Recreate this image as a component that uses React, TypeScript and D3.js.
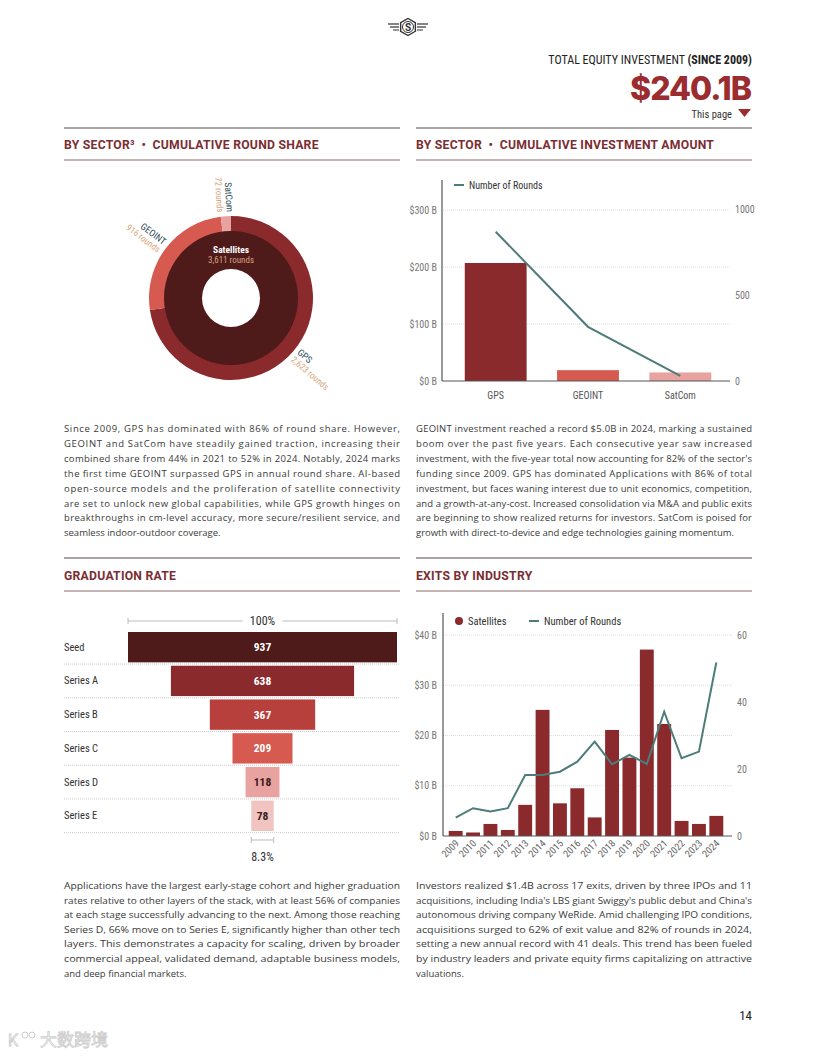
import React from "react";
import * as d3 from "d3";

// ---------- DATA ----------
const donutSectors = ["GPS", "GEOINT", "SatCom"];
const donutRounds = [2623, 916, 72];
const donutTotalLabel = "Satellites";
const donutTotalRounds = 3611;

const sectorCats = ["GPS", "GEOINT", "SatCom"];
const sectorInvestB = [207, 19, 15];
const sectorRounds = [868, 315, 30];
const sectorLeftTicks = [0, 100, 200, 300];
const sectorRightTicks = [0, 500, 1000];

const funnelStages = ["Seed", "Series A", "Series B", "Series C", "Series D", "Series E"];
const funnelValues = [937, 638, 367, 209, 118, 78];
const funnelTopLabel = "100%";
const funnelBottomLabel = "8.3%";

const exitYears = ["2009","2010","2011","2012","2013","2014","2015","2016","2017","2018","2019","2020","2021","2022","2023","2024"];
const exitValuesB = [1.0, 0.7, 2.4, 1.2, 6.2, 25.1, 6.5, 9.5, 3.7, 21.1, 15.6, 37.1, 22.3, 3.0, 2.4, 4.0];
const exitRounds = [5.5, 8.3, 7.3, 8.3, 18.2, 18.2, 19.2, 22.2, 28.2, 21.4, 24.2, 21.5, 37.1, 23.2, 25.2, 51.8];
const exitLeftTicks = [0, 10, 20, 30, 40];
const exitRightTicks = [0, 20, 40, 60];

const para1 = [
  "Since 2009, GPS has dominated with 86% of round share. However,",
  "GEOINT and SatCom have steadily gained traction, increasing their",
  "combined share from 44% in 2021 to 52% in 2024. Notably, 2024 marks",
  "the first time GEOINT surpassed GPS in annual round share. AI-based",
  "open-source models and the proliferation of satellite connectivity",
  "are set to unlock new global capabilities, while GPS growth hinges on",
  "breakthroughs in cm-level accuracy, more secure/resilient service, and",
  "seamless indoor-outdoor coverage.",
];
const para2 = [
  "GEOINT investment reached a record $5.0B in 2024, marking a sustained",
  "boom over the past five years. Each consecutive year saw increased",
  "investment, with the five-year total now accounting for 82% of the sector's",
  "funding since 2009. GPS has dominated Applications with 86% of total",
  "investment, but faces waning interest due to unit economics, competition,",
  "and a growth-at-any-cost. Increased consolidation via M&A and public exits",
  "are beginning to show realized returns for investors. SatCom is poised for",
  "growth with direct-to-device and edge technologies gaining momentum.",
];
const para3 = [
  "Applications have the largest early-stage cohort and higher graduation",
  "rates relative to other layers of the stack, with at least 56% of companies",
  "at each stage successfully advancing to the next. Among those reaching",
  "Series D, 66% move on to Series E, significantly higher than other tech",
  "layers. This demonstrates a capacity for scaling, driven by broader",
  "commercial appeal, validated demand, adaptable business models,",
  "and deep financial markets.",
];
const para4 = [
  "Investors realized $1.4B across 17 exits, driven by three IPOs and 11",
  "acquisitions, including India's LBS giant Swiggy's public debut and China's",
  "autonomous driving company WeRide. Amid challenging IPO conditions,",
  "acquisitions surged to 62% of exit value and 82% of rounds in 2024,",
  "setting a new annual record with 41 deals. This trend has been fueled",
  "by industry leaders and private equity firms capitalizing on attractive",
  "valuations.",
];

// ---------- STYLE ----------
const COND = "'Roboto Condensed','Liberation Sans Narrow','DejaVu Sans Condensed',Roboto,sans-serif";
const SANS = "'Open Sans','Noto Sans',sans-serif";
const HEAD = "Roboto,'Noto Sans',sans-serif";
const RED_DARK = "#4f1a1a";
const RED = "#8b2a2c";
const RED_MID = "#b8403c";
const RED_LIGHT = "#d65a50";
const PINK = "#e8a2a0";
const PINK_L = "#f1c3c1";
const TEAL = "#4d7c79";
const TITLE = "#7b2d32";
const NB = "\u00a0";

function Para({ lines, x, y, w, lh, size, squeeze }: any) {
  return (
    <g fontFamily={SANS} fontSize={size} fill="#3a3a3a">
      {lines.map((l: string, i: number) => (
        <text
          key={i}
          x={x}
          y={y + i * lh}
          textLength={i < lines.length - 1 ? w : undefined}
          lengthAdjust={squeeze ? "spacingAndGlyphs" : "spacing"}
        >
          {l}
        </text>
      ))}
    </g>
  );
}

function SectionHead({ x, y, text, ruleTop }: any) {
  return (
    <g>
      <line x1={x} x2={x + 336} y1={ruleTop} y2={ruleTop} stroke="#5a4a4a" strokeWidth={1.2} />
      <text x={x} y={y} fontFamily={HEAD} fontWeight={700} fontSize={12.2} letterSpacing={0.25} fill={TITLE}>
        {text}
      </text>
      <line x1={x} x2={x + 336} y1={y + 11} y2={y + 11} stroke="#8c6b6b" strokeWidth={1.2} />
    </g>
  );
}

function Donut() {
  const cx = 231, cy = 298;
  const pie = d3.pie<number>().sort(null).value((d) => d)(donutRounds);
  const outer = d3.arc<any>().innerRadius(66).outerRadius(82);
  const inner = d3.arc<any>().innerRadius(29).outerRadius(67).startAngle(0).endAngle(Math.PI * 2);
  const colors = [RED, RED_LIGHT, PINK];
  return (
    <g transform={`translate(${cx},${cy})`}>
      {pie.map((p, i) => (
        <path key={i} d={outer(p) as string} fill={colors[i]} />
      ))}
      <path d={inner({}) as string} fill={RED_DARK} />
      <text y={-45} textAnchor="middle" fontFamily={COND} fontWeight={700} fontSize={9.5} fill="#fff">
        {donutTotalLabel}
      </text>
      <text y={-35} textAnchor="middle" fontFamily={COND} fontSize={9} fill="#d8a080">
        {d3.format(",")(donutTotalRounds)} rounds
      </text>
      {pie.map((p, i) => {
        const mid = ((p.startAngle + p.endAngle) / 2) * 180 / Math.PI;
        const right = mid < 180;
        const rot = right ? mid - 90 : mid + 90;
        const a = (mid * Math.PI) / 180;
        const r = 86;
        const px = Math.sin(a) * r, py = -Math.cos(a) * r;
        return (
          <g key={"l" + i} transform={`translate(${px},${py}) rotate(${rot})`}>
            <text textAnchor={right ? "start" : "end"} y={-1} fontFamily={COND} fontSize={9.5} fill="#2f4e5a">
              {donutSectors[i]}
            </text>
            <text textAnchor={right ? "start" : "end"} y={8.5} fontFamily={COND} fontSize={9} fill="#d8a57c">
              {d3.format(",")(donutRounds[i])} rounds
            </text>
          </g>
        );
      })}
    </g>
  );
}

function SectorBars() {
  const x = d3.scaleBand().domain(sectorCats).range([450, 726]).paddingInner(0.33).paddingOuter(0.16);
  const yL = d3.scaleLinear().domain([0, 300]).range([381, 210]);
  const yR = d3.scaleLinear().domain([0, 1000]).range([381, 209]);
  const colors = [RED, RED_LIGHT, PINK];
  const line = d3.line<number>().x((_, i) => (x(sectorCats[i]) as number) + x.bandwidth() / 2).y((d) => yR(d));
  return (
    <g>
      {sectorLeftTicks.map((t) => (
        <g key={t}>
          {t > 0 && <line x1={443} x2={730} y1={yL(t)} y2={yL(t)} stroke="#ddd" strokeDasharray="1,1" />}
          <text x={437} y={yL(t) + 3.5} textAnchor="end" fontFamily={COND} fontSize={10} fill="#777">
            {`$${t} B`}
          </text>
        </g>
      ))}
      {sectorRightTicks.map((t) => (
        <text key={t} x={735} y={yR(t) + 3.5} fontFamily={COND} fontSize={10} fill="#777">
          {t}
        </text>
      ))}
      {sectorCats.map((c, i) => (
        <rect key={c} x={x(c)} width={x.bandwidth()} y={yL(sectorInvestB[i])} height={381 - yL(sectorInvestB[i])} fill={colors[i]} />
      ))}
      <line x1={442} x2={442} y1={180} y2={381} stroke="#555" strokeWidth={1.2} />
      <line x1={442} x2={730} y1={381} y2={381} stroke="#555" strokeWidth={1} />
      <path d={line(sectorRounds) as string} fill="none" stroke={TEAL} strokeWidth={2} />
      {sectorCats.map((c) => (
        <text key={c} x={(x(c) as number) + x.bandwidth() / 2} y={399} textAnchor="middle" fontFamily={COND} fontSize={10} fill="#555">
          {c}
        </text>
      ))}
      <line x1={454} x2={464} y1={185} y2={185} stroke={TEAL} strokeWidth={2} />
      <text x={469} y={189} fontFamily={COND} fontSize={10} fill="#333">Number of Rounds</text>
    </g>
  );
}

function Funnel() {
  const cx = 262.5;
  const w = d3.scaleLinear().domain([0, d3.max(funnelValues) as number]).range([0, 269]);
  const y = d3.scaleBand().domain(funnelStages).range([631, 832]).paddingInner(0.1).paddingOuter(0.03);
  const fills = [RED_DARK, RED, RED_MID, RED_LIGHT, PINK, PINK_L];
  const txt = ["#fff", "#fff", "#fff", "#fff", "#3a1a1a", "#3a1a1a"];
  const step = y.step();
  const topW = w(funnelValues[0]);
  const lastW = w(funnelValues[funnelValues.length - 1]);
  return (
    <g>
      <line x1={cx - topW / 2} x2={cx - 20} y1={621} y2={621} stroke="#bbb" />
      <line x1={cx + 20} x2={cx + topW / 2} y1={621} y2={621} stroke="#bbb" />
      <line x1={cx - topW / 2} x2={cx - topW / 2} y1={618} y2={624} stroke="#bbb" />
      <line x1={cx + topW / 2} x2={cx + topW / 2} y1={618} y2={624} stroke="#bbb" />
      <text x={cx} y={625} textAnchor="middle" fontFamily={COND} fontSize={12} fill="#333">{funnelTopLabel}</text>
      {funnelStages.map((s, i) => {
        const yy = y(s) as number;
        const ww = w(funnelValues[i]);
        const sep = yy + y.bandwidth() + (step - y.bandwidth()) / 2;
        return (
          <g key={s}>
            <line x1={64} x2={400} y1={sep} y2={sep} stroke="#ccc" strokeDasharray="1,1" />
            <rect x={cx - ww / 2} y={yy} width={ww} height={y.bandwidth()} fill={fills[i]} />
            <text x={64} y={yy + y.bandwidth() / 2 + 3.5} fontFamily={COND} fontSize={10.5} fill="#333">{s}</text>
            <text x={cx} y={yy + y.bandwidth() / 2 + 4} textAnchor="middle" fontFamily={COND} fontWeight={700} fontSize={11.5} fill={txt[i]}>
              {funnelValues[i]}
            </text>
          </g>
        );
      })}
      <line x1={cx - lastW / 2} x2={cx + lastW / 2} y1={840} y2={840} stroke="#bbb" />
      <line x1={cx - lastW / 2} x2={cx - lastW / 2} y1={837} y2={843} stroke="#bbb" />
      <line x1={cx + lastW / 2} x2={cx + lastW / 2} y1={837} y2={843} stroke="#bbb" />
      <text x={cx} y={861} textAnchor="middle" fontFamily={COND} fontSize={12} fill="#333">{funnelBottomLabel}</text>
    </g>
  );
}

function Exits() {
  const x = d3.scaleBand().domain(exitYears).range([447, 725]).paddingInner(0.2).paddingOuter(0.1);
  const yL = d3.scaleLinear().domain([0, 40]).range([836, 635]);
  const yR = d3.scaleLinear().domain([0, 60]).range([836, 635]);
  const cxOf = (yr: string) => (x(yr) as number) + x.bandwidth() / 2;
  const line = d3.line<number>().x((_, i) => cxOf(exitYears[i])).y((d) => yR(d));
  return (
    <g>
      {exitLeftTicks.map((t) => (
        <g key={t}>
          {t > 0 && <line x1={443} x2={732} y1={yL(t)} y2={yL(t)} stroke="#ddd" strokeDasharray="1,1" />}
          <text x={437} y={yL(t) + 3.5} textAnchor="end" fontFamily={COND} fontSize={10} fill="#777">{`$${t} B`}</text>
        </g>
      ))}
      {exitRightTicks.map((t) => (
        <text key={t} x={737} y={yR(t) + 3.5} fontFamily={COND} fontSize={10} fill="#777">{t}</text>
      ))}
      {exitYears.map((yr, i) => (
        <rect key={yr} x={x(yr)} width={x.bandwidth()} y={yL(exitValuesB[i])} height={836 - yL(exitValuesB[i])} fill={RED} />
      ))}
      <line x1={443} x2={443} y1={613} y2={836} stroke="#555" strokeWidth={1.2} />
      <line x1={443} x2={732} y1={836} y2={836} stroke="#555" strokeWidth={1} />
      <path d={line(exitRounds) as string} fill="none" stroke={TEAL} strokeWidth={2} />
      {exitYears.map((yr) => (
        <text key={yr} transform={`translate(${cxOf(yr) + 4},${844}) rotate(-45)`} textAnchor="end" fontFamily={COND} fontSize={10} fill="#666">
          {yr}
        </text>
      ))}
      <circle cx={459} cy={621} r={4} fill={RED} />
      <text x={468} y={625} fontFamily={COND} fontSize={10.5} fill="#333">Satellites</text>
      <line x1={529} x2={539} y1={621} y2={621} stroke={TEAL} strokeWidth={2} />
      <text x={544} y={625} fontFamily={COND} fontSize={10.5} fill="#333">Number of Rounds</text>
    </g>
  );
}

function Logo() {
  const cx = 408, cy = 27;
  const hex = d3.range(6).map((k) => {
    const a = (Math.PI / 3) * k + Math.PI / 6;
    return [cx + Math.cos(a) * 8.5, cy + Math.sin(a) * 8.5];
  });
  return (
    <g stroke="#333" fill="none">
      <polygon points={hex.map((p) => p.join(",")).join(" ")} strokeWidth={1.4} />
      <circle cx={cx} cy={cy} r={5.5} strokeWidth={1} />
      <text x={cx} y={cy + 3.5} textAnchor="middle" fontFamily={HEAD} fontWeight={700} fontSize={10} fill="#333" stroke="none">S</text>
      <line x1={388} x2={399} y1={24} y2={24} strokeWidth={1.2} />
      <line x1={390} x2={399} y1={27} y2={27} strokeWidth={1.2} />
      <line x1={393} x2={399} y1={30} y2={30} strokeWidth={1} />
      <line x1={417} x2={428} y1={24} y2={24} strokeWidth={1.2} />
      <line x1={417} x2={426} y1={27} y2={27} strokeWidth={1.2} />
      <line x1={417} x2={423} y1={30} y2={30} strokeWidth={1} />
    </g>
  );
}

export default function App() {
  return (
    <svg width={816} height={1056} style={{ position: "absolute", left: 0, top: 0, background: "#fff" }}>
      <rect width={816} height={1056} fill="#fff" />
      <Logo />
      <text x={752} y={64} textAnchor="end" fontFamily={COND} fontSize={12} fill="#222">
        TOTAL EQUITY INVESTMENT <tspan fontWeight={700}>(SINCE 2009)</tspan>
      </text>
      <text x={751} y={100} textAnchor="end" fontFamily="Inter,Lato,sans-serif" fontWeight={800} fontSize={32} letterSpacing={-1} fill="#9b2c2f">
        $240.1B
      </text>
      <text x={732} y={118} textAnchor="end" fontFamily={COND} fontSize={10.5} fill="#333">This page</text>
      <path d="M738,109 L751,109 L744.5,117 Z" fill="#9b2c2f" />

      <SectionHead x={64} y={149} ruleTop={128} text={`BY SECTOR³${NB}${NB}•${NB}${NB}CUMULATIVE ROUND SHARE`} />
      <SectionHead x={416} y={149} ruleTop={128} text={`BY SECTOR${NB}${NB}•${NB}${NB}CUMULATIVE INVESTMENT AMOUNT`} />
      <Donut />
      <SectorBars />
      <Para lines={para1} x={64} y={432} w={336} lh={14.9} size={9.5} />
      <Para lines={para2} x={416} y={432} w={336} lh={14.9} size={9.5} />

      <SectionHead x={64} y={580} ruleTop={558} text="GRADUATION RATE" />
      <SectionHead x={416} y={580} ruleTop={558} text="EXITS BY INDUSTRY" />
      <Funnel />
      <Exits />
      <Para lines={para3} x={64} y={889} w={336} lh={14.6} size={9.5} squeeze />
      <Para lines={para4} x={416} y={889} w={336} lh={14.6} size={9.5} squeeze />

      <text x={752} y={1020} textAnchor="end" fontFamily={COND} fontSize={13} fill="#222">14</text>
      <text x={40} y={1046} fontFamily="'Noto Sans CJK SC',sans-serif" fontSize={17} fill="#fff" stroke="#ccc" strokeWidth={0.8}>大数跨境</text>
      <text x={8} y={1046} fontFamily={HEAD} fontSize={16} fill="#fff" stroke="#ccc" strokeWidth={0.8}>K</text>
      <circle cx={25} cy={1035} r={3} fill="none" stroke="#ccc" />
      <circle cx={32} cy={1035} r={3} fill="none" stroke="#ccc" />
    </svg>
  );
}
